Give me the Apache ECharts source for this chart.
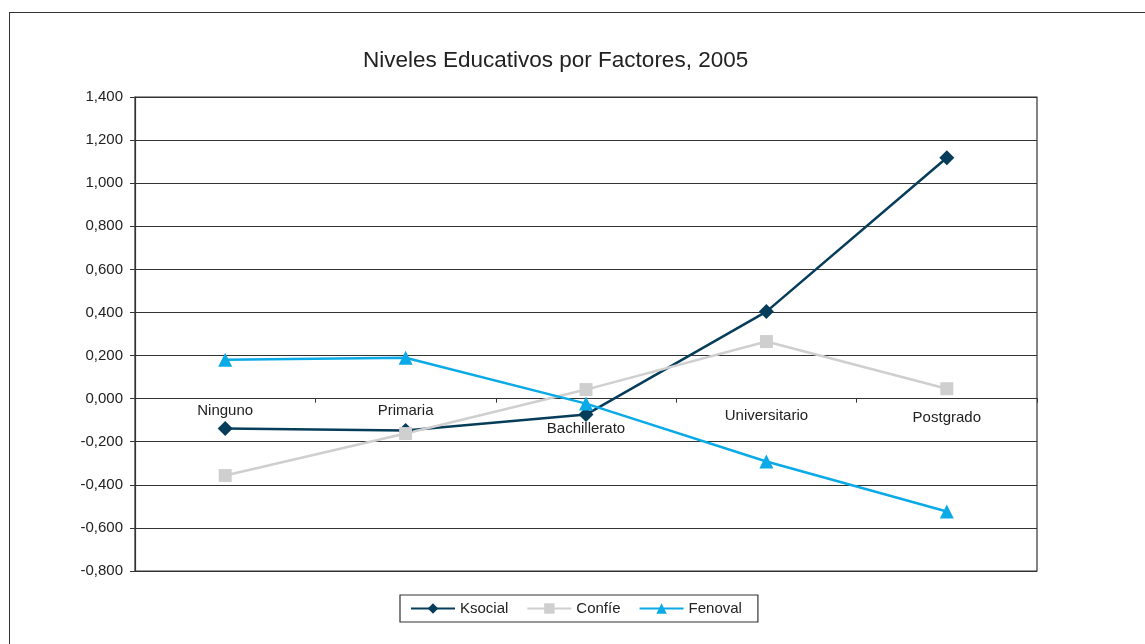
<!DOCTYPE html>
<html>
<head>
<meta charset="utf-8">
<script src="https://cdn.jsdelivr.net/npm/echarts@6/dist/echarts.min.js"></script>
<style>
  html, body { margin: 0; padding: 0; background: #fff; }
  #chart { width: 1145px; height: 644px; }
  .frame {
    position: absolute; left: 9px; top: 12px; width: 1200px; height: 700px;
    border-left: 1.5px solid #333; border-top: 1.5px solid #333;
    pointer-events: none;
  }
</style>
</head>
<body>
<div class="frame"></div>
<div id="chart"></div>
<script>
const categories = ['Ninguno', 'Primaria', 'Bachillerato', 'Universitario', 'Postgrado']
// label offsets below the zero line, as in the original
const labelStyle = ['a', 'a', 'd', 'b', 'c']
const ksocial = [-0.139, -0.148, -0.074, 0.404, 1.118]
const confie = [-0.357, -0.162, 0.042, 0.265, 0.046]
const fenoval = [0.181, 0.190, -0.023, -0.292, -0.524]

const chart = echarts.init(document.getElementById('chart'))

function line(name, data, color, symbol, size) {
  return {
    name: name,
    type: 'line',
    data: data,
    symbol: symbol,
    symbolSize: size,
    lineStyle: { color: color, width: 2.5 },
    itemStyle: { color: color },
    animation: false
  }
}

chart.setOption({
  textStyle: { fontFamily: 'Liberation Sans, Arial, sans-serif' },
  title: {
    text: 'Niveles Educativos por Factores, 2005',
    left: 358,
    top: 44,
    textStyle: { fontSize: 22.5, fontWeight: 'normal', color: '#222' }
  },
  legend: {
    bottom: 22,
    left: 400,
    itemWidth: 44,
    itemHeight: 13,
    itemGap: 18,
    padding: [6, 16, 6, 10],
    borderColor: '#333',
    borderWidth: 1.2,
    borderRadius: 0,
    textStyle: { fontSize: 15, color: '#222' }
  },
  grid: { left: 135, right: 108, top: 97, bottom: 73, show: true, borderColor: '#333', borderWidth: 1.2 },
  xAxis: {
    type: 'category',
    data: categories,
    axisLine: { onZero: true, lineStyle: { color: '#333', width: 1.2 } },
    axisTick: { show: true, inside: false, length: 4, lineStyle: { color: '#333' } },
    axisLabel: {
      margin: -168,
      fontSize: 15,
      color: '#222',
      formatter: function (v, i) { return '{' + labelStyle[i] + '|' + v + '}' },
      rich: {
        a: { fontSize: 15, color: '#222', padding: [0, 0, 0, 0] },
        b: { fontSize: 15, color: '#222', padding: [5, 0, 0, 0] },
        c: { fontSize: 15, color: '#222', padding: [7, 0, 0, 0] },
        d: { fontSize: 15, color: '#222', padding: [18, 0, 0, 0] }
      }
    },
    splitLine: { show: false }
  },
  yAxis: {
    type: 'value',
    min: -0.8,
    max: 1.4,
    interval: 0.2,
    axisLine: { show: true, lineStyle: { color: '#333', width: 1.2 } },
    axisTick: { show: true, length: 5, lineStyle: { color: '#333' } },
    axisLabel: {
      fontSize: 15,
      color: '#222',
      margin: 12,
      formatter: function (v) {
        const s = Math.abs(v).toFixed(3).replace('.', ',')
        return (v < -1e-9 ? '-' : '') + s
      }
    },
    splitLine: { lineStyle: { color: '#333', width: 1.2 } }
  },
  series: [
    line('Ksocial', ksocial, '#063d5a', 'diamond', 15),
    line('Confíe', confie, '#cfcfcf', 'rect', 13),
    line('Fenoval', fenoval, '#0aaae6', 'triangle', 14)
  ]
})
</script>
</body>
</html>
